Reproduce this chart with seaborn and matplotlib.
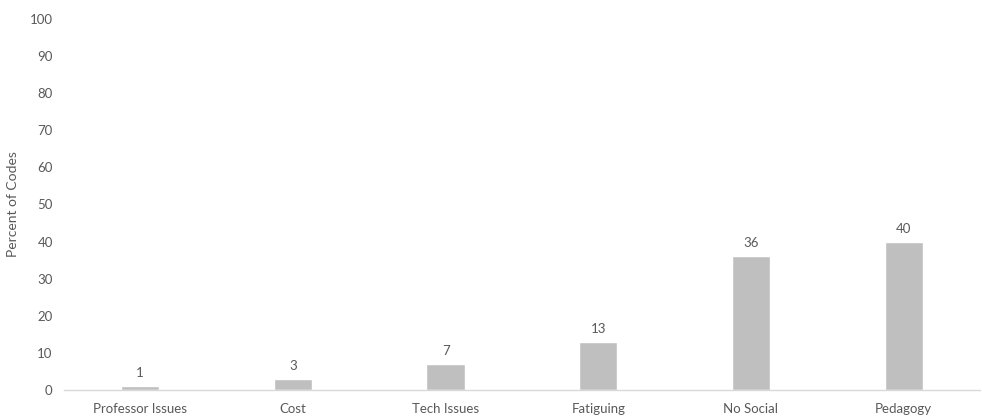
import matplotlib
matplotlib.use("Agg")
import matplotlib.pyplot as plt
import seaborn as sns
import pandas as pd

categories = ["Professor Issues", "Cost", "Tech Issues", "Fatiguing", "No Social", "Pedagogy"]
percent = [1, 3, 7, 13, 36, 40]
y_ticks = [0, 10, 20, 30, 40, 50, 60, 70, 80, 90, 100]

sns.set_theme(style="white")
plt.rcParams["font.family"] = ["Lato", "DejaVu Sans"]

text_color = "#595959"
fs = 9.5
df = pd.DataFrame({"category": categories, "percent": percent})

fig = plt.figure(figsize=(9.82, 4.18), dpi=100)
ax = fig.add_axes([0.065, 0.067, 0.933, 0.888])

sns.barplot(data=df, x="category", y="percent", color="#BFBFBF", width=0.25,
            saturation=1, ax=ax)

for i, v in enumerate(percent):
    ax.annotate(f"{v}", (i, v), xytext=(0, 5), textcoords="offset points",
                ha="center", va="bottom", fontsize=fs, color=text_color)

ax.set_ylim(0, 100)
ax.set_yticks(y_ticks)
ax.set_xlim(-0.5, len(categories) - 0.5)
ax.set_xlabel("")
ax.set_ylabel("Percent of Codes", fontsize=10, color=text_color)
ax.yaxis.set_label_coords(-0.049, 0.5)
ax.tick_params(axis="both", labelsize=fs, labelcolor=text_color, length=0)
ax.tick_params(axis="x", pad=9.5)
ax.tick_params(axis="y", pad=8)

for side in ["left", "right", "top"]:
    ax.spines[side].set_visible(False)
ax.spines["bottom"].set_color("#D9D9D9")
ax.spines["bottom"].set_linewidth(1)

fig.savefig("out.png", dpi=100)
